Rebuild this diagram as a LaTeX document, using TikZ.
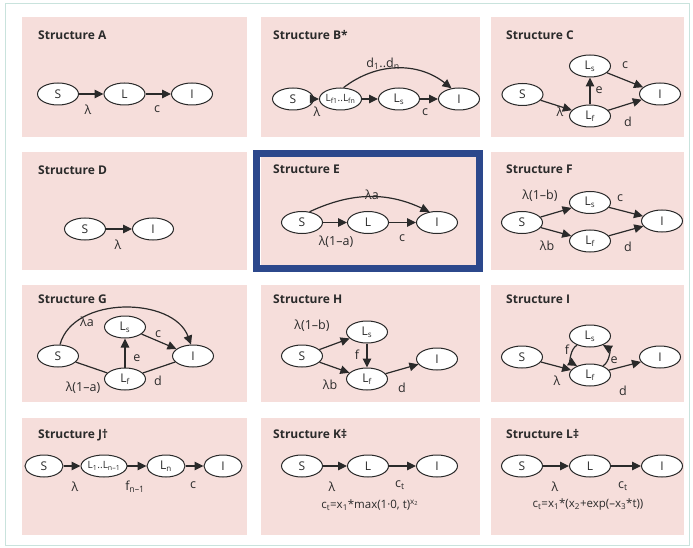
\documentclass[tikz,border=0pt]{standalone}
\usepackage{fontspec}
\setmainfont{Open Sans}
\usetikzlibrary{shapes.geometric,arrows.meta}
\definecolor{pinkc}{HTML}{F6DEDB}
\definecolor{bluec}{HTML}{2C488C}
\definecolor{linec}{HTML}{2A2A2A}
\definecolor{framec}{HTML}{C9E3DD}
\begin{document}
\begin{tikzpicture}[x=1pt,y=-1pt,
  st/.style={ellipse, draw=linec, fill=white, line width=1pt, minimum width=41pt, minimum height=22pt, inner sep=0pt, text=linec, font=\fontsize{12}{12}\selectfont},
  stsmall/.style={st, font=\fontsize{10}{10}\selectfont},
  arr/.style={draw=linec, line width=1.2pt, -{Triangle[length=9pt,width=8.5pt]}},
  ln/.style={draw=linec, line width=1.2pt},
  lab/.style={font=\fontsize{12.5}{12.5}\selectfont, text=linec, inner sep=0pt},
  ttl/.style={font=\bfseries\fontsize{12}{12}\selectfont, text=linec, anchor=base west, inner sep=0pt},
  panelbox/.style={fill=pinkc, draw=none}]
\useasboundingbox (0,0) rectangle (693,548);
\fill[white] (0,0) rectangle (693,548);
\draw[framec, line width=1pt] (5,4) rectangle (689,545);
% panels
\foreach \xa/\xb in {22/247, 261/480, 491/684}
  \foreach \ya/\yb in {17/137, 152/270, 285/402, 418/535}
    \fill[panelbox] (\xa,\ya) rectangle (\xb,\yb);
\draw[bluec, line width=7pt] (256.5,153.5) rectangle (479.5,268.5);
% titles
\node[ttl] (tA) at (38,40) {Structure A};
\node[ttl] (tB) at (273,40) {Structure B*};
\node[ttl] (tC) at (506,40) {Structure C};
\node[ttl] (tD) at (38,175) {Structure D};
\node[ttl] (tE) at (273,174) {Structure E};
\node[ttl] (tF) at (506,174) {Structure F};
\node[ttl] (tG) at (38,303) {Structure G};
\node[ttl] (tH) at (273,303) {Structure H};
\node[ttl] (tI) at (506,303) {Structure I};
\node[ttl] (tJ) at (38,438) {Structure J†};
\node[ttl] (tK) at (273,438) {Structure K‡};
\node[ttl] (tL) at (506,438) {Structure L‡};
% A
\node[st] (aS) at (58,94) {S};
\node[st] (aL) at (124.5,94) {L};
\node[st] (aI) at (192,94) {I};
\draw[arr] (aS) -- (aL);
\draw[arr] (aL) -- (aI);
\node[lab] (aLam) at (88,110) {λ};
\node[lab] (aC) at (157,109) {c};
% B
\node[st] (bS) at (293,99) {S};
\node[stsmall] (bLf) at (340.5,99) {L\textsubscript{f1}..L\textsubscript{fn}};
\node[st] (bLs) at (399,99) {L\textsubscript{s}};
\node[st] (bI) at (459,99) {I};
\draw[arr] (bS) -- (bLf);
\draw[arr] (bLf) -- (bLs);
\draw[arr] (bLs) -- (bI);
\draw[arr] (bLf.75) to[bend left=38] (bI.125);
\node[lab] (bD) at (383,64) {d\textsubscript{1}..d\textsubscript{n}};
\node[lab] (bLam) at (317,112) {λ};
\node[lab] (bC) at (425,112) {c};
% C
\node[st] (cS) at (522.5,94.5) {S};
\node[st] (cLs) at (590,66) {L\textsubscript{s}};
\node[st] (cLf) at (590,116) {L\textsubscript{f}};
\node[st] (cI) at (660,94) {I};
\draw[arr] (cS) -- (cLf);
\draw[arr] (cLf) -- (cLs);
\draw[arr] (cLs) -- (cI);
\draw[arr] (cLf) -- (cI);
\node[lab] (cLam) at (560,112) {λ};
\node[lab] (cE) at (599,90) {e};
\node[lab] (cC) at (625,65) {c};
\node[lab] (cD) at (628,122) {d};
% D
\node[st] (dS) at (85,229) {S};
\node[st] (dI) at (153,229) {I};
\draw[arr] (dS) -- (dI);
\node[lab] (dLam) at (118,245) {λ};
% E
\node[st] (eS) at (302,222.5) {S};
\node[st] (eL) at (368,222.5) {L};
\node[st] (eI) at (437,222.5) {I};
\draw[arr] (eS) -- (eL);
\draw[arr] (eL) -- (eI);
\draw[arr] (eS.55) to[bend left=25] (eI.125);
\node[lab] (eLam) at (336,242) {λ(1–a)};
\node[lab] (eC) at (402,238) {c};
\node[lab] (eLa) at (372,195) {λa};
% F
\node[st] (fS) at (522,222.5) {S};
\node[st] (fLs) at (590,202.5) {L\textsubscript{s}};
\node[st] (fLf) at (590,241) {L\textsubscript{f}};
\node[st] (fI) at (662,221) {I};
\draw[arr] (fS) -- (fLs);
\draw[arr] (fS) -- (fLf);
\draw[arr] (fLs) -- (fI);
\draw[arr] (fLf) -- (fI);
\node[lab] (fLb1) at (540,196) {λ(1–b)};
\node[lab] (fC) at (620,198) {c};
\node[lab] (fLb) at (547,246) {λb};
\node[lab] (fD) at (628,247) {d};
% G
\node[st] (gS) at (58,356) {S};
\node[st] (gLs) at (125,327) {L\textsubscript{s}};
\node[st] (gLf) at (125,379) {L\textsubscript{f}};
\node[st] (gI) at (193,356) {I};
\draw[arr] (gS.80) to[out=75,in=110] (gI.100);
\draw[arr] (gLf) -- (gLs);
\draw[arr] (gLs) -- (gI);
\draw[ln] (gS) -- (gLf);
\draw[ln] (gLf) -- (gI);
\node[lab] (gLa) at (87,322) {λa};
\node[lab] (gE) at (137,358) {e};
\node[lab] (gC) at (158,334) {c};
\node[lab] (gLa1) at (83,388) {λ(1–a)};
\node[lab] (gD) at (158,381) {d};
% H
\node[st] (hS) at (302,356) {S};
\node[st] (hLs) at (367,332) {L\textsubscript{s}};
\node[st] (hLf) at (367,379) {L\textsubscript{f}};
\node[st] (hI) at (437,359) {I};
\draw[arr] (hS) -- (hLs);
\draw[arr] (hS) -- (hLf);
\draw[arr] (hLs) -- (hLf);
\draw[arr] (hLf) -- (hI);
\node[lab] (hLb1) at (312,326) {λ(1–b)};
\node[lab] (hLb) at (330,385) {λb};
\node[lab] (hF) at (357,355) {f};
\node[lab] (hD) at (402,388) {d};
% I
\node[st] (iS) at (522,357) {S};
\node[st] (iLs) at (590,336) {L\textsubscript{s}};
\node[st] (iLf) at (590,375) {L\textsubscript{f}};
\node[st] (iI) at (660,357) {I};
\draw[arr] (iS) -- (iLf);
\draw[arr] (iLs.215) to[bend right=60] (iLf.145);
\draw[arr] (iLf.35) to[bend right=60] (iLs.325);
\draw[arr] (iLf) -- (iI);
\node[lab] (iLam) at (557,381) {λ};
\node[lab] (iF) at (567,350) {f};
\node[lab] (iE) at (614,360) {e};
\node[lab] (iD) at (623,391) {d};
% J
\node[st, minimum width=38pt] (jS) at (44,466) {S};
\node[stsmall, minimum width=42pt] (jL1) at (104,466) {L\textsubscript{1}..L\textsubscript{n–1}};
\node[st, minimum width=38pt] (jLn) at (166,466) {L\textsubscript{n}};
\node[st, minimum width=38pt] (jI) at (223,466) {I};
\draw[arr] (jS) -- (jL1);
\draw[arr] (jL1) -- (jLn);
\draw[arr] (jLn) -- (jI);
\node[lab] (jLam) at (75,487) {λ};
\node[lab] (jF) at (135,487) {f\textsubscript{n–1}};
\node[lab] (jC) at (193,485) {c};
% K
\node[st] (kS) at (302,466) {S};
\node[st] (kL) at (368,466) {L};
\node[st] (kI) at (437,466) {I};
\draw[arr] (kS) -- (kL);
\draw[arr] (kL) -- (kI);
\node[lab] (kLam) at (332,487) {λ};
\node[lab] (kC) at (400,485) {c\textsubscript{t}};
\node[lab, font=\fontsize{11.5}{11.5}\selectfont] (kF) at (370,505) {c\textsubscript{t}=x\textsubscript{1}*max(1·0, t)\textsuperscript{x\textsubscript{2}}};
% L
\node[st] (lS) at (522,466) {S};
\node[st] (lL) at (590,466) {L};
\node[st] (lI) at (662,466) {I};
\draw[arr] (lS) -- (lL);
\draw[arr] (lL) -- (lI);
\node[lab] (lLam) at (555,487) {λ};
\node[lab] (lC) at (623,486) {c\textsubscript{t}};
\node[lab, font=\fontsize{11.5}{11.5}\selectfont] (lF) at (588,505) {c\textsubscript{t}=x\textsubscript{1}*(x\textsubscript{2}+exp(–x\textsubscript{3}*t))};
\end{tikzpicture}
\end{document}
